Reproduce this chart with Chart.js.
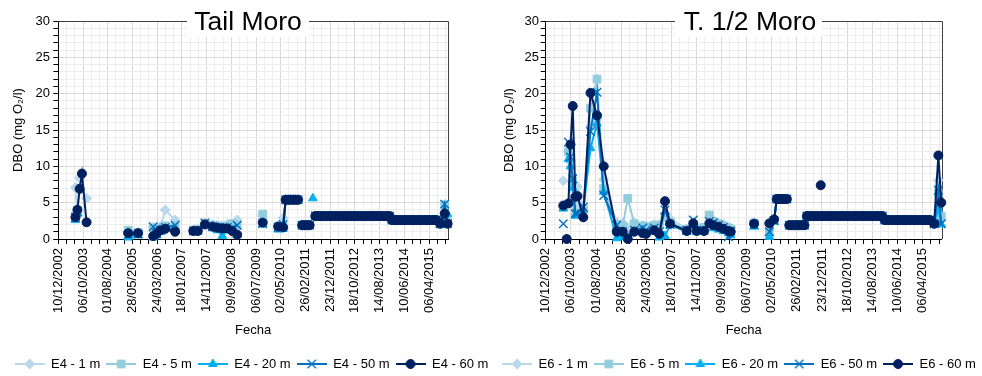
<!DOCTYPE html>
<html lang="es">
<head>
<meta charset="utf-8">
<script src="https://cdn.jsdelivr.net/npm/chart.js@4.4.1/dist/chart.umd.min.js"></script>
<style>
  html, body { margin: 0; padding: 0; background: #fff; }
  #wrap { position: relative; width: 982px; height: 376px; }
  .panel { position: absolute; top: 0; width: 491px; height: 376px; }
  #p1 { left: 0; }
  #p2 { left: 491px; }
</style>
</head>
<body>
<div id="wrap">
  <div class="panel" id="p1"><canvas id="c1" width="491" height="376"></canvas></div>
  <div class="panel" id="p2"><canvas id="c2" width="491" height="376"></canvas></div>
</div>
<script>
// Fechas como número de serie de hoja de cálculo (días desde 30/12/1899)
const X_MIN = 37600;       // 10/12/2002
const X_MAX = 42330;
const PASO_MAYOR = 300;    // días entre etiquetas
const PASO_MENOR = 100;    // días entre líneas menores

const profundidades = ['1 m', '5 m', '20 m', '50 m', '60 m'];

// ---------- Estación E4 (Tail Moro) ----------
const fechasE4 = [
  37808, 37832, 37859, 37887, 37943, 38200,
  38448, 38568, 38650,
  38752, 38791, 38839, 38899, 39018, 39130,
  39239, 39293, 39380, 39472, 39532, 39591, 39651, 39711, 39771, 39920,
  40081, 40180,
  40269, 40329,
  40360, 40390, 40420, 40450, 40480, 40510, 40525,
  40560, 40590, 40620, 40650, 40665,
  40690, 40705,
  40720, 40750, 40780, 40810, 40840, 40870, 40900, 40930, 40960, 40990,
  41020, 41050, 41080, 41110, 41140, 41170, 41200, 41230, 41260, 41290,
  41320, 41350, 41380, 41410, 41440, 41470, 41500, 41530, 41560, 41590,
  41620,
  41650, 41680, 41710, 41740, 41770, 41800, 41830, 41860, 41890, 41920,
  41950, 41980, 42010, 42040, 42070, 42100, 42130, 42160, 42190,
  42235, 42290, 42325
];
const e4_1m = [
  7.1, 3.2, 8.4, null, 5.6, null,
  1.0, 0.9, null,
  1.6, 1.5, 1.7, 4.0, 2.6, null,
  1.2, 1.3, 2.1, 2.0, 1.9, 1.8, 2.0, 2.0, 2.6, null,
  2.4, null,
  1.8, 2.9,
  5.4, 5.4, 5.4, 5.4, 5.4, 5.4, null,
  1.9, 1.9, 1.9, 1.9, null,
  null, null,
  3.15, 3.15, 3.15, 3.15, 3.15, 3.15, 3.15, 3.15, 3.15, 3.15,
  3.15, 3.15, 3.15, 3.15, 3.15, 3.15, 3.15, 3.15, 3.15, 3.15,
  3.15, 3.15, 3.15, 3.15, 3.15, 3.15, 3.15, 3.15, 3.15, 3.15,
  3.15,
  2.6, 2.6, 2.6, 2.6, 2.6, 2.6, 2.6, 2.6, 2.6, 2.6,
  2.6, 2.6, 2.6, 2.6, 2.6, 2.6, 2.6, 2.6, 2.6,
  2.1, 3.8, 2.2
];
const e4_5m = [
  3.1, 4.0, null, null, null, null,
  1.2, 0.9, null,
  1.5, 1.3, 1.5, 1.8, 1.9, null,
  1.2, 1.3, 2.2, 1.9, 1.8, 1.6, 1.8, 2.1, 1.9, null,
  3.4, null,
  1.8, 1.8,
  5.4, 5.4, 5.4, 5.4, 5.4, 5.4, null,
  1.9, 1.9, 1.9, 1.9, null,
  null, null,
  3.15, 3.15, 3.15, 3.15, 3.15, 3.15, 3.15, 3.15, 3.15, 3.15,
  3.15, 3.15, 3.15, 3.15, 3.15, 3.15, 3.15, 3.15, 3.15, 3.15,
  3.15, 3.15, 3.15, 3.15, 3.15, 3.15, 3.15, 3.15, 3.15, 3.15,
  3.15,
  2.6, 2.6, 2.6, 2.6, 2.6, 2.6, 2.6, 2.6, 2.6, 2.6,
  2.6, 2.6, 2.6, 2.6, 2.6, 2.6, 2.6, 2.6, 2.6,
  2.1, 4.7, 2.3
];
const e4_20m = [
  2.6, 3.5, null, null, null, null,
  0.2, 0.5, null,
  0.2, 0.5, 1.0, 1.5, 1.4, null,
  1.0, 1.1, 1.9, 1.6, 1.2, 0.4, 1.3, 1.2, 0.5, null,
  2.0, null,
  1.3, 1.4,
  5.4, 5.4, 5.4, 5.4, 5.4, 5.4, null,
  1.9, 1.9, 1.9, 1.9, null,
  5.6, null,
  3.15, 3.15, 3.15, 3.15, 3.15, 3.15, 3.15, 3.15, 3.15, 3.15,
  3.15, 3.15, 3.15, 3.15, 3.15, 3.15, 3.15, 3.15, 3.15, 3.15,
  3.15, 3.15, 3.15, 3.15, 3.15, 3.15, 3.15, 3.15, 3.15, 3.15,
  3.15,
  2.6, 2.6, 2.6, 2.6, 2.6, 2.6, 2.6, 2.6, 2.6, 2.6,
  2.6, 2.6, 2.6, 2.6, 2.6, 2.6, 2.6, 2.6, 2.6,
  2.1, 2.4, 3.4
];
const e4_50m = [
  3.0, 3.8, null, null, null, null,
  0.6, 0.7, null,
  1.7, 0.8, 1.2, 1.6, 1.9, null,
  1.1, 1.2, 2.2, 1.7, 1.6, 1.5, 1.6, 1.5, 1.9, null,
  2.1, null,
  1.6, 2.0,
  5.4, 5.4, 5.4, 5.4, 5.4, 5.4, null,
  1.9, 1.9, 1.9, 1.9, null,
  null, null,
  3.15, 3.15, 3.15, 3.15, 3.15, 3.15, 3.15, 3.15, 3.15, 3.15,
  3.15, 3.15, 3.15, 3.15, 3.15, 3.15, 3.15, 3.15, 3.15, 3.15,
  3.15, 3.15, 3.15, 3.15, 3.15, 3.15, 3.15, 3.15, 3.15, 3.15,
  3.15,
  2.6, 2.6, 2.6, 2.6, 2.6, 2.6, 2.6, 2.6, 2.6, 2.6,
  2.6, 2.6, 2.6, 2.6, 2.6, 2.6, 2.6, 2.6, 2.6,
  2.1, 4.8, 2.1
];
const e4_60m = [
  3.0, 4.0, 6.9, 9.0, 2.3, null,
  0.8, 0.8, null,
  0.4, 0.7, 1.2, 1.4, 1.0, null,
  1.1, 1.1, 2.0, 1.7, 1.55, 1.45, 1.45, 1.1, 0.6, null,
  2.25, null,
  1.7, 1.6,
  5.4, 5.4, 5.4, 5.4, 5.4, 5.4, null,
  1.9, 1.9, 1.9, 1.9, null,
  null, null,
  3.15, 3.15, 3.15, 3.15, 3.15, 3.15, 3.15, 3.15, 3.15, 3.15,
  3.15, 3.15, 3.15, 3.15, 3.15, 3.15, 3.15, 3.15, 3.15, 3.15,
  3.15, 3.15, 3.15, 3.15, 3.15, 3.15, 3.15, 3.15, 3.15, 3.15,
  3.15,
  2.6, 2.6, 2.6, 2.6, 2.6, 2.6, 2.6, 2.6, 2.6, 2.6,
  2.6, 2.6, 2.6, 2.6, 2.6, 2.6, 2.6, 2.6, 2.6,
  2.1, 3.5, 2.1
];

// ---------- Estación E6 (T. 1/2 Moro) ----------
const fechasE6 = [
  37810, 37840, 37851, 37862, 37872, 37896, 37923, 37954, 37980, 38049, 38135, 38213, 38293,
  38448, 38520, 38580, 38658, 38759, 38798, 38897, 38957, 39025, 39085,
  39285, 39363, 39404, 39491, 39555, 39602, 39662, 39722, 39782, 39810, 39950,
  40089, 40180,
  40271, 40328,
  40360, 40390, 40420, 40450, 40480, 40495,
  40510, 40540, 40570, 40600, 40630, 40660, 40690,
  40720, 40750, 40780, 40810, 40840, 40870,
  40878, 40885, 40892,
  40900, 40930, 40960, 40990, 41020, 41050, 41080, 41110, 41140, 41170,
  41200, 41230, 41260, 41290, 41320, 41350, 41380, 41410, 41440, 41470,
  41500, 41530, 41560, 41590, 41620,
  41650, 41680, 41710, 41740, 41770, 41800, 41830, 41860, 41890, 41920,
  41950, 41980, 42010, 42040, 42070, 42100, 42130, 42160, 42190,
  42240, 42290, 42325
];
const e6_1m = [
  8.0, null, null, null, 12.0, 10.8, 7.5, 4.5, 7.2, 3.8, 15.5, 16.5, 8.2,
  2.3, 2.2, 1.5, 2.2, 1.9, 1.7, 2.0, 2.0, 3.5, 2.8,
  1.4, 2.0, 1.5, 1.4, 3.0, 2.5, 2.2, 2.0, 1.6, 1.5, null,
  2.3, null,
  0.5, 2.7,
  5.5, 5.5, 5.5, 5.5, 5.5, null,
  1.9, 1.9, 1.9, 1.9, 1.9, 1.9, 1.9,
  3.15, 3.15, 3.15, 3.15, 3.15, 3.15,
  null, null, null,
  3.15, 3.15, 3.15, 3.15, 3.15, 3.15, 3.15, 3.15, 3.15, 3.15,
  3.15, 3.15, 3.15, 3.15, 3.15, 3.15, 3.15, 3.15, 3.15, 3.15,
  3.15, 3.15, 3.15, 3.15, 3.15,
  2.6, 2.6, 2.6, 2.6, 2.6, 2.6, 2.6, 2.6, 2.6, 2.6,
  2.6, 2.6, 2.6, 2.6, 2.6, 2.6, 2.6, 2.6, 2.6,
  2.1, 8.1, 2.6
];
const e6_5m = [
  4.4, null, null, null, 12.0, 11.0, 8.0, 3.6, 3.5, 4.2, 18.0, 22.0, 7.0,
  2.0, 1.8, 5.6, 2.1, 1.8, 1.7, 1.9, 1.9, 3.0, 2.3,
  1.3, 2.0, 1.4, 1.6, 3.3, 2.4, 2.1, 1.8, 1.5, 1.3, null,
  2.2, null,
  0.9, 2.6,
  5.5, 5.5, 5.5, 5.5, 5.5, null,
  1.9, 1.9, 1.9, 1.9, 1.9, 1.9, 1.9,
  3.15, 3.15, 3.15, 3.15, 3.15, 3.15,
  null, null, null,
  3.15, 3.15, 3.15, 3.15, 3.15, 3.15, 3.15, 3.15, 3.15, 3.15,
  3.15, 3.15, 3.15, 3.15, 3.15, 3.15, 3.15, 3.15, 3.15, 3.15,
  3.15, 3.15, 3.15, 3.15, 3.15,
  2.6, 2.6, 2.6, 2.6, 2.6, 2.6, 2.6, 2.6, 2.6, 2.6,
  2.6, 2.6, 2.6, 2.6, 2.6, 2.6, 2.6, 2.6, 2.6,
  2.1, 6.3, 3.1
];
const e6_20m = [
  4.2, null, null, null, 11.0, 10.0, 7.0, 3.2, 3.3, 4.0, 12.5, 15.9, 6.5,
  0.1, 0.3, 0.2, 1.0, 1.2, 0.8, 1.0, 0.2, 0.4, 1.9,
  1.0, 1.8, 1.0, 1.1, 2.0, 1.5, 1.3, 1.1, 0.8, 0.5, null,
  1.7, null,
  0.3, 2.4,
  5.5, 5.5, 5.5, 5.5, 5.5, null,
  1.9, 1.9, 1.9, 1.9, 1.9, 1.9, 1.9,
  3.15, 3.15, 3.15, 3.15, 3.15, 3.15,
  null, null, null,
  3.15, 3.15, 3.15, 3.15, 3.15, 3.15, 3.15, 3.15, 3.15, 3.15,
  3.15, 3.15, 3.15, 3.15, 3.15, 3.15, 3.15, 3.15, 3.15, 3.15,
  3.15, 3.15, 3.15, 3.15, 3.15,
  2.6, 2.6, 2.6, 2.6, 2.6, 2.6, 2.6, 2.6, 2.6, 2.6,
  2.6, 2.6, 2.6, 2.6, 2.6, 2.6, 2.6, 2.6, 2.6,
  2.1, 4.2, 2.0
];
const e6_50m = [
  2.1, null, null, null, 13.3, 11.3, 8.3, 3.5, 3.5, 4.4, 14.8, 20.2, 6.0,
  1.9, 1.0, 0.5, 1.2, 1.5, 1.2, 1.5, 1.0, 4.0, 2.0,
  1.2, 2.6, 1.2, 1.2, 2.4, 2.2, 1.9, 1.6, 0.3, 1.1, null,
  2.0, null,
  1.0, 2.5,
  5.5, 5.5, 5.5, 5.5, 5.5, null,
  1.9, 1.9, 1.9, 1.9, 1.9, 1.9, 1.9,
  3.15, 3.15, 3.15, 3.15, 3.15, 3.15,
  null, null, null,
  3.15, 3.15, 3.15, 3.15, 3.15, 3.15, 3.15, 3.15, 3.15, 3.15,
  3.15, 3.15, 3.15, 3.15, 3.15, 3.15, 3.15, 3.15, 3.15, 3.15,
  3.15, 3.15, 3.15, 3.15, 3.15,
  2.6, 2.6, 2.6, 2.6, 2.6, 2.6, 2.6, 2.6, 2.6, 2.6,
  2.6, 2.6, 2.6, 2.6, 2.6, 2.6, 2.6, 2.6, 2.6,
  2.1, 6.7, 2.1
];
const e6_60m = [
  4.6, null, 0.0, null, 4.9, 13.0, 18.3, 5.8, 5.9, 3.0, 20.1, 17.0, 10.0,
  1.0, 1.0, 0.0, 1.0, 0.8, 0.7, 1.2, 0.7, 5.2, 2.1,
  1.1, 2.15, 1.1, 1.1, 2.15, 1.9, 1.7, 1.4, 1.1, 1.0, null,
  2.1, null,
  2.15, 2.7,
  5.5, 5.5, 5.5, 5.5, 5.5, null,
  1.9, 1.9, 1.9, 1.9, 1.9, 1.9, 1.9,
  3.15, 3.15, 3.15, 3.15, 3.15, 3.15,
  null, 7.4, null,
  3.15, 3.15, 3.15, 3.15, 3.15, 3.15, 3.15, 3.15, 3.15, 3.15,
  3.15, 3.15, 3.15, 3.15, 3.15, 3.15, 3.15, 3.15, 3.15, 3.15,
  3.15, 3.15, 3.15, 3.15, 3.15,
  2.6, 2.6, 2.6, 2.6, 2.6, 2.6, 2.6, 2.6, 2.6, 2.6,
  2.6, 2.6, 2.6, 2.6, 2.6, 2.6, 2.6, 2.6, 2.6,
  2.1, 11.5, 5.0
];

// ---------- Estilo de las series ----------
const colores = ['#B9D8EB', '#92CDDC', '#00B0F0', '#0070C0', '#002060'];
const estilos = ['rectRot', 'rect', 'triangle', 'crossRot', 'circle'];
const radios  = [5, 5.5, 5, 6, 4.5];

Chart.defaults.font.family = '"Liberation Sans", Arial, Helvetica, sans-serif';
Chart.defaults.font.size = 13;
Chart.defaults.color = '#000';

function fechaTexto(serial) {
  const d = new Date(Date.UTC(1899, 11, 30) + Math.round(serial) * 86400000);
  const dd = String(d.getUTCDate()).padStart(2, '0');
  const mm = String(d.getUTCMonth() + 1).padStart(2, '0');
  return dd + '/' + mm + '/' + d.getUTCFullYear();
}
const esMayorX = v => (Math.round(v) - X_MIN) % PASO_MAYOR === 0;

// Marcador dibujado a mano para las muestras de la leyenda
function marcador(g, estilo, x, y, r) {
  g.beginPath();
  if (estilo === 'circle') {
    g.arc(x, y, r, 0, Math.PI * 2);
    g.fill(); g.stroke();
  } else if (estilo === 'rect') {
    const h = r * Math.SQRT1_2;
    g.rect(x - h, y - h, 2 * h, 2 * h);
    g.fill(); g.stroke();
  } else if (estilo === 'rectRot') {
    g.moveTo(x, y - r); g.lineTo(x + r, y); g.lineTo(x, y + r); g.lineTo(x - r, y); g.closePath();
    g.fill(); g.stroke();
  } else if (estilo === 'triangle') {
    for (let k = 0; k < 3; k++) {
      const a = k * 2 * Math.PI / 3;
      const px = x + Math.sin(a) * r, py = y - Math.cos(a) * r;
      if (k === 0) g.moveTo(px, py); else g.lineTo(px, py);
    }
    g.closePath(); g.fill(); g.stroke();
  } else if (estilo === 'crossRot') {
    const h = r * Math.SQRT1_2;
    g.moveTo(x - h, y - h); g.lineTo(x + h, y + h);
    g.moveTo(x + h, y - h); g.lineTo(x - h, y + h);
    g.lineWidth = 1.4; g.stroke();
  }
}
function muestraLeyenda(i) {
  const c = document.createElement('canvas');
  c.width = 30; c.height = 12;
  const g = c.getContext('2d');
  g.strokeStyle = colores[i]; g.fillStyle = colores[i];
  g.lineWidth = 2;
  g.beginPath(); g.moveTo(0, 6); g.lineTo(30, 6); g.stroke();
  g.lineWidth = 1;
  marcador(g, estilos[i], 15, 6, radios[i]);
  return c;
}
const muestras = colores.map((_, i) => muestraLeyenda(i));

// Marco del área de trazado (arriba y derecha) y título con fondo blanco
const panelPlugin = {
  id: 'panel',
  beforeDatasetsDraw(chart) {
    const { ctx, chartArea: a } = chart;
    ctx.save();
    ctx.strokeStyle = '#404040';
    ctx.lineWidth = 1;
    ctx.beginPath();
    ctx.moveTo(a.left, Math.round(a.top) + 0.5);
    ctx.lineTo(Math.round(a.right) + 0.5, Math.round(a.top) + 0.5);
    ctx.lineTo(Math.round(a.right) + 0.5, a.bottom);
    ctx.stroke();
    ctx.restore();
  },
  afterDraw(chart, args, o) {
    const { ctx } = chart;
    ctx.save();
    ctx.fillStyle = '#fff';
    ctx.fillRect(o.cajaIzq, 0, o.cajaDer - o.cajaIzq, o.cajaAlto);
    ctx.fillStyle = '#000';
    ctx.font = o.fuente;
    ctx.textAlign = 'center';
    ctx.textBaseline = 'alphabetic';
    ctx.fillText(o.texto, o.x, o.base);
    ctx.restore();
  }
};

function crearPanel(idCanvas, estacion, titulo, fechas, series, lay) {
  const datasets = series.map((serie, i) => ({
    label: estacion + ' - ' + profundidades[i],
    data: fechas.map((f, k) => ({ x: f, y: serie[k] })),
    borderColor: colores[i],
    backgroundColor: colores[i],
    borderWidth: 2,
    pointStyle: estilos[i],
    pointRadius: radios[i],
    pointBorderColor: colores[i],
    pointBackgroundColor: colores[i],
    pointBorderWidth: i === 3 ? 1.4 : 1,
    tension: 0,
    spanGaps: false,
    clip: false,
    order: 5 - i
  }));

  return new Chart(document.getElementById(idCanvas), {
    type: 'line',
    data: { datasets },
    plugins: [panelPlugin],
    options: {
      responsive: false,
      animation: false,
      events: [],
      layout: { padding: { left: lay.padIzq, right: lay.padDerLayout, top: 21, bottom: -4.5 } },
      scales: {
        x: {
          type: 'linear',
          min: X_MIN,
          max: X_MAX,
          afterFit: s => { s.height = 112.5; s.paddingLeft = 0; s.paddingRight = lay.padDer; },
          ticks: {
            stepSize: PASO_MENOR,
            autoSkip: false,
            includeBounds: false,
            minRotation: 90,
            maxRotation: 90,
            padding: 4,
            font: { size: 13 },
            callback: v => esMayorX(v) ? fechaTexto(v) : ''
          },
          grid: {
            color: c => (c.tick && esMayorX(c.tick.value)) ? '#D9D9D9' : '#EDEDED',
            tickColor: '#000',
            tickLength: 5,
            lineWidth: 1
          },
          border: { color: '#000', width: 1 },
          title: { display: true, text: 'Fecha', font: { size: 13 }, padding: { top: 0, bottom: 13.7 } }
        },
        y: {
          min: 0,
          max: 30,
          afterFit: s => { s.width = lay.anchoY; s.paddingTop = 0; s.paddingBottom = 0; },
          ticks: {
            stepSize: 1,
            autoSkip: false,
            padding: lay.padTickY,
            font: { size: 13 },
            callback: v => (v % 5 === 0 ? String(v) : '')
          },
          grid: {
            color: c => (c.tick && c.tick.value % 5 === 0) ? '#D9D9D9' : '#EDEDED',
            tickColor: '#000',
            tickLength: 5,
            lineWidth: 1
          },
          border: { color: '#000', width: 1 },
          title: { display: true, text: 'DBO (mg O₂/l)', font: { size: 13 }, padding: { top: lay.padTituloY, bottom: 0 } }
        }
      },
      plugins: {
        tooltip: { enabled: false },
        legend: {
          position: 'bottom',
          labels: {
            usePointStyle: true,
            pointStyleWidth: 30,
            padding: 6,
            font: { size: 13 },
            color: '#000',
            generateLabels: chart => chart.data.datasets.map((ds, i) => ({
              text: ds.label,
              pointStyle: muestras[i],
              fillStyle: ds.borderColor,
              strokeStyle: ds.borderColor,
              lineWidth: 0,
              hidden: false,
              datasetIndex: i
            }))
          }
        },
        panel: {
          texto: titulo,
          x: lay.tituloX,
          base: 30,
          fuente: '26.5px "Liberation Sans", Arial, sans-serif',
          cajaIzq: lay.cajaIzq,
          cajaDer: lay.cajaDer,
          cajaAlto: 37
        }
      }
    }
  });
}

crearPanel('c1', 'E4', 'Tail Moro', fechasE4,
  [e4_1m, e4_5m, e4_20m, e4_50m, e4_60m],
  { padIzq: 6, padDerLayout: -6, anchoY: 52.3, padDer: 43, padTickY: 3.3, padTituloY: 4.2,
    tituloX: 248, cajaIzq: 187, cajaDer: 309 });

crearPanel('c2', 'E6', 'T. 1/2 Moro', fechasE6,
  [e6_1m, e6_5m, e6_20m, e6_50m, e6_60m],
  { padIzq: 5, padDerLayout: 0, anchoY: 49.7, padDer: 40.3, padTickY: 1.7, padTituloY: 6,
    tituloX: 259, cajaIzq: 184, cajaDer: 331 });
</script>
</body>
</html>
